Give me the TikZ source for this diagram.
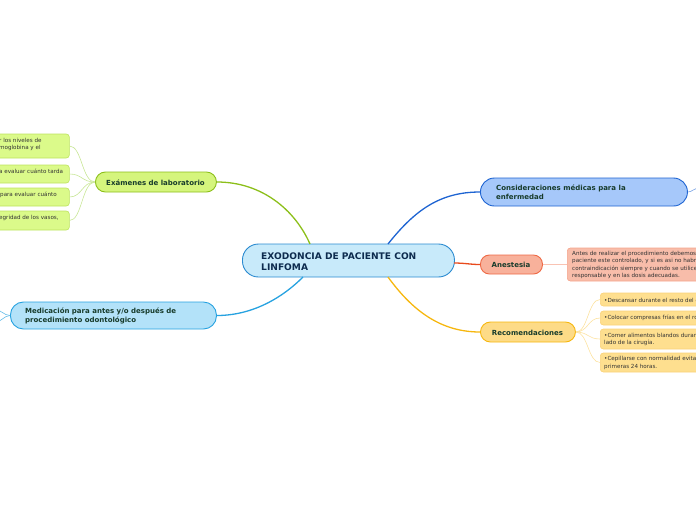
\documentclass[tikz,border=0pt]{standalone}
\usepackage{fontspec}
\setmainfont{DejaVu Sans}
\definecolor{cfill}{HTML}{C8EAFA}
\definecolor{cdraw}{HTML}{2A8AD0}
\definecolor{navy}{HTML}{0D2B4E}
\definecolor{dgreen}{HTML}{173B2B}
\definecolor{efill}{HTML}{D5F57D}
\definecolor{edraw}{HTML}{8CBF1A}
\definecolor{lfill}{HTML}{DBFA8A}
\definecolor{ldraw}{HTML}{BDE35F}
\definecolor{lline}{HTML}{C8E696}
\definecolor{kfill}{HTML}{A6C8FA}
\definecolor{kdraw}{HTML}{1E64D2}
\definecolor{afill}{HTML}{F8B19B}
\definecolor{adraw}{HTML}{EE6A46}
\definecolor{aline}{HTML}{E84A1C}
\definecolor{nfill}{HTML}{F8BDAA}
\definecolor{ndraw}{HTML}{F5A48C}
\definecolor{nline}{HTML}{F9C3B3}
\definecolor{rfill}{HTML}{FDDB87}
\definecolor{rdraw}{HTML}{F6B70F}
\definecolor{sfill}{HTML}{FEDF8F}
\definecolor{sdraw}{HTML}{FAD27A}
\definecolor{sline}{HTML}{FCE2A0}
\definecolor{mfill}{HTML}{B3E2F9}
\definecolor{mdraw}{HTML}{27A2E0}
\definecolor{small}{HTML}{3A3A2A}
\tikzset{
  box/.style={draw, line width=0.9pt, inner sep=0pt, anchor=west},
  note/.style={draw, line width=0.6pt, inner sep=0pt, anchor=west, rounded corners=3pt},
  lbl/.style={inner sep=0pt, font=\fontsize{7}{9}\selectfont\bfseries, text=dgreen, align=left},
  sml/.style={inner sep=0pt, font=\fontsize{5.6}{7.3}\selectfont, text=black!80, align=left, anchor=west},
  main/.style={line width=1.3pt},
  sub/.style={line width=0.6pt}
}
\begin{document}
\begin{tikzpicture}[x=1pt,y=-1pt]
\useasboundingbox (0,0) rectangle (696,520);
\clip (0,0) rectangle (696,520);
\coordinate (cE) at (310,244);
\coordinate (cK) at (388,244);
\coordinate (cA) at (454,263);
\coordinate (cR) at (388,277);
\coordinate (cM) at (303,277);
% central
\node[box, fill=cfill, draw=cdraw, rounded corners=16pt, minimum width=212pt, minimum height=33pt] (c) at (242,260.5) {};
\node[inner sep=0pt, anchor=west, align=left, font=\fontsize{9.1}{11}\selectfont\bfseries, text=navy] (ct) at (261,261.5) {EXODONCIA DE PACIENTE CON\\LINFOMA};
% Examenes
\node[box, fill=efill, draw=edraw, rounded corners=10pt, minimum width=121pt, minimum height=20pt] (e) at (95,182) {};
\node[lbl] (et) at (155.5,182.5) {Exámenes de laboratorio};
% lime notes
\node[note, fill=lfill, draw=ldraw, minimum width=129pt, minimum height=24pt] (l1) at (-60,146) {};
\node[note, fill=lfill, draw=ldraw, minimum width=129pt, minimum height=18pt] (l2) at (-60,174) {};
\node[note, fill=lfill, draw=ldraw, minimum width=129pt, minimum height=18pt] (l3) at (-60,197) {};
\node[note, fill=lfill, draw=ldraw, minimum width=129pt, minimum height=19pt] (l4) at (-60,220.5) {};
\node[sml] (l1t) at (-1,144.5) {r los niveles de\\moglobina y el};
\node[sml] (l2t) at (-1,171) {a evaluar cuánto tarda};
\node[sml] (l3t) at (0,195) {para evaluar cuánto};
\node[sml] (l4t) at (-1,218) {egridad de los vasos,};
% Consideraciones
\node[box, fill=kfill, draw=kdraw, rounded corners=14pt, minimum width=207pt, minimum height=28pt] (k) at (480,192) {};
\node[lbl, anchor=west] (kt) at (496,192.5) {Consideraciones médicas para la\\enfermedad};
\coordinate (kx) at (700,188);
% Anestesia
\node[box, fill=afill, draw=adraw, rounded corners=9pt, minimum width=62pt, minimum height=19pt] (a) at (480,264.5) {};
\node[lbl] (at) at (511,265) {Anestesia};
\node[note, fill=nfill, draw=ndraw, minimum width=150pt, minimum height=33pt] (n) at (567,264.5) {};
\node[sml] (nt) at (572,265) {Antes de realizar el procedimiento debemos\\paciente este controlado, y si es asi no habri\\contraindicación siempre y cuando se utilicen\\responsable y en las dosis adecuadas.};
% Recomendaciones
\node[box, fill=rfill, draw=rdraw, rounded corners=10pt, minimum width=95pt, minimum height=20pt] (r) at (480,332) {};
\node[lbl] (rt) at (527.5,332.5) {Recomendaciones};
\node[note, fill=sfill, draw=sdraw, minimum width=110pt, minimum height=13pt] (s1) at (600,299.5) {};
\node[note, fill=sfill, draw=sdraw, minimum width=110pt, minimum height=14pt] (s2) at (600,318) {};
\node[note, fill=sfill, draw=sdraw, minimum width=110pt, minimum height=20pt] (s3) at (600,339) {};
\node[note, fill=sfill, draw=sdraw, minimum width=110pt, minimum height=19pt] (s4) at (600,362.5) {};
\node[sml] (s1t) at (604,300) {•Descansar durante el resto del d};
\node[sml] (s2t) at (604,318) {•Colocar compresas frías en el ro};
\node[sml] (s3t) at (604,339.5) {•Comer alimentos blandos duran\\lado de la cirugía.};
\node[sml] (s4t) at (604,363) {•Cepillarse con normalidad evitar\\primeras 24 horas.};
% Medicacion
\node[box, fill=mfill, draw=mdraw, rounded corners=13pt, minimum width=206pt, minimum height=27pt] (m) at (10,315.5) {};
\begin{scope}
\clip (20,300) rectangle (179,332);
\node[lbl, anchor=west] (mt) at (25,316) {Medicación para antes y/o después de\\procedimiento odontológico};
\end{scope}
\coordinate (mx1) at (-6,309);
\coordinate (mx2) at (-6,323);
% main connectors
\draw[main, draw=edraw] (cE) .. controls (295,210) and (262,182) .. (e.east);
\draw[main, draw=kdraw] (cK) .. controls (415,210) and (440,192) .. (k.west);
\draw[main, draw=aline] (cA) .. controls (465,263) and (470,264.5) .. (a.west);
\draw[main, draw=rdraw] (cR) .. controls (412,310) and (440,332) .. (r.west);
\draw[main, draw=mdraw] (cM) .. controls (280,300) and (250,315.5) .. (m.east);
\draw[sub, draw=kdraw!60] (k.east) .. controls (692,192) and (694,188) .. (kx);
\draw[sub, draw=mdraw!70] (m.west) .. controls (4,315.5) and (0,309) .. (mx1);
\draw[sub, draw=mdraw!70] (m.west) .. controls (4,315.5) and (0,323) .. (mx2);
% sub connectors
\foreach \t in {l1,l2,l3,l4}{
  \draw[sub, draw=lline] (e.west) .. controls (82,182) and (82,0 |- \t.east) .. (\t.east);
}
\draw[sub, draw=nline] (a.east) .. controls (555,264.5) and (555,264.5) .. (n.west);
\foreach \t in {s1,s2,s3,s4}{
  \draw[sub, draw=sline] (r.east) .. controls (588,332) and (588,0 |- \t.west) .. (\t.west);
}
\end{tikzpicture}
\end{document}
